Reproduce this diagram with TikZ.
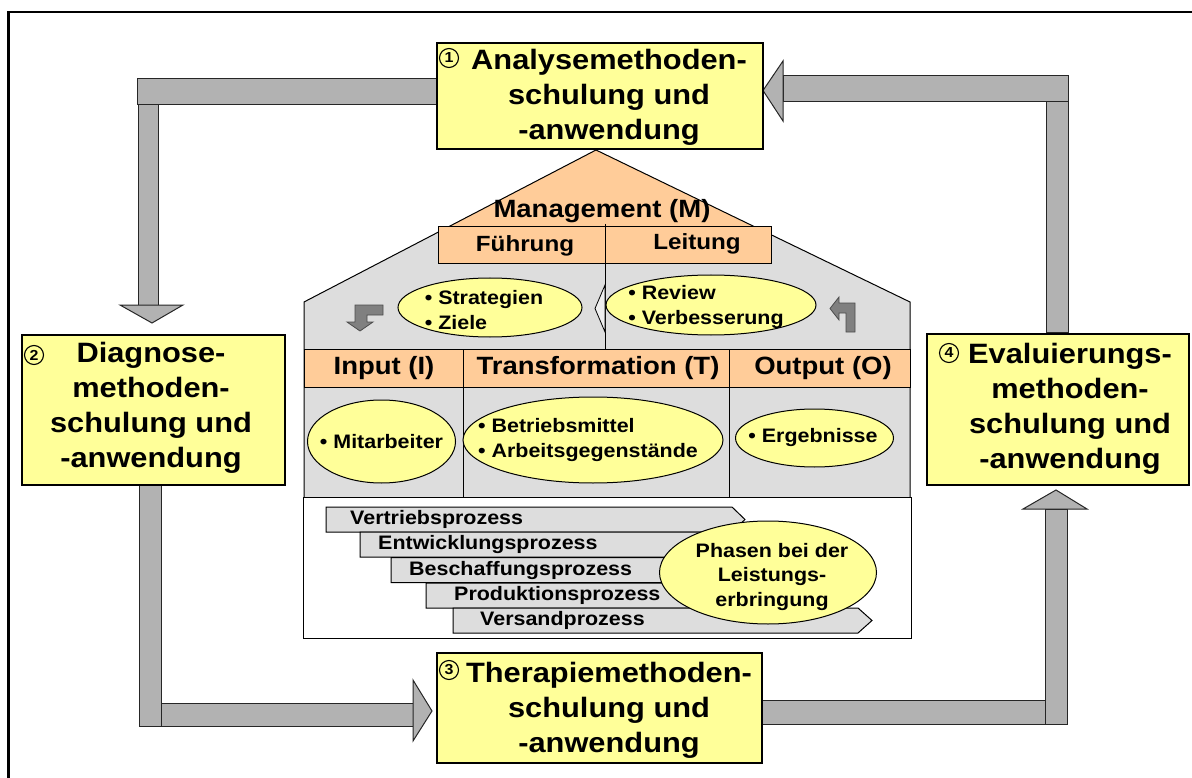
\documentclass[tikz,border=0pt]{standalone}
\usepackage{fontspec}
\setmainfont{Liberation Sans}[FakeStretch=1.1]
\usetikzlibrary{shapes.geometric}
\definecolor{yel}{HTML}{FFFF99}
\definecolor{peach}{HTML}{FFCC99}
\definecolor{hgray}{HTML}{DDDDDD}
\definecolor{barg}{HTML}{B2B2B2}
\definecolor{darkg}{HTML}{808080}
\tikzset{
  ybox/.style={draw=black, line width=1.2pt, fill=yel, inner sep=0pt},
  bigtxt/.style={font=\fontsize{28}{35}\selectfont\bfseries, align=center, inner sep=0pt},
  medtxt/.style={font=\fontsize{25}{30}\selectfont\bfseries, inner sep=0pt},
  fltxt/.style={font=\fontsize{22}{26}\selectfont\bfseries, inner sep=0pt},
  smtxt/.style={font=\fontsize{19.5}{25}\selectfont\bfseries, inner sep=0pt, align=left},
  phtxt/.style={font=\fontsize{19.5}{24.5}\selectfont\bfseries, inner sep=0pt, align=center},
  numc/.style={circle, draw=black, line width=1.1pt, inner sep=0pt, minimum size=19pt, font=\fontsize{14.5}{15}\selectfont\bfseries},
  gbar/.style={fill=barg, draw=black!85, line width=1pt},
  yell/.style={ellipse, draw=black, line width=1pt, fill=yel, inner sep=0pt},
  pbar/.style={fill=hgray, draw=black, line width=1pt},
  thin/.style={draw=black, line width=1pt},
  smarrow/.style={fill=darkg, draw=black!70, line width=0.8pt},
}
\begin{document}
\begin{tikzpicture}[x=1pt,y=-1pt]
\useasboundingbox (0,0) rectangle (1192,778);
% frame
\draw[line width=2.6pt] (8.5,780) -- (8.5,12) -- (1194,12);

% ---------- house ----------
\fill[hgray] (304,302) -- (596,150) -- (910,302) -- (910,497) -- (304,497) -- cycle;
\fill[peach] (596,150) -- (446,228) -- (757,228) -- cycle;
\draw[thin] (304,497) -- (304,302) -- (596,150) -- (910,302) -- (910,497);

\node[medtxt] (mgmt) at (602,211) {Management (M)};
\node[draw=black, line width=1pt, fill=peach, minimum width=333pt, minimum height=37pt] (fl) at (604.5,245.5) {};
\node[fltxt] (fuehr) at (525,246) {Führung};
\node[fltxt] (leit) at (697,244) {Leitung};
\draw[thin] (605,224) -- (605,349);

% strategy band
\node[yell, minimum width=184pt, minimum height=59pt] (es) at (490,307.5) {};
\node[smtxt] (ts) at (484,310) {• Strategien\\• Ziele};
\node[yell, minimum width=210pt, minimum height=60pt] (er) at (711,305) {};
\node[smtxt] (tr) at (706,307.5) {• Review\\• Verbesserung};
\draw[fill=hgray!50, draw=black, line width=0.8pt] (605,285) -- (595,308.5) -- (605,332) -- cycle;
\draw[smarrow] (383,305) -- (383,315) -- (367,315) -- (367,322) -- (373,322) -- (360,331) -- (347,322) -- (355,322) -- (355,305) -- cycle;
\draw[smarrow] (855,303) -- (855,332) -- (846,332) -- (846,313) -- (839,313) -- (839,320) -- (830,308.5) -- (839,297) -- (839,303) -- cycle;

% I T O header
\node[draw=black, line width=1pt, fill=peach, minimum width=606pt, minimum height=38pt] (hdr) at (607,368) {};
\draw[thin] (463,349) -- (463,497);
\draw[thin] (729,349) -- (729,497);
\node[medtxt] (hi) at (384,368) {Input (I)};
\node[medtxt] (ht) at (598,368) {Transformation (T)};
\node[medtxt] (ho) at (823,368) {Output (O)};

% contents
\node[yell, minimum width=148pt, minimum height=83pt] (em) at (381.5,441.5) {};
\node[smtxt] (tm) at (381.5,442) {• Mitarbeiter};
\node[yell, minimum width=260pt, minimum height=86pt] (eb) at (593,440) {};
\node[smtxt] (tb) at (588,440) {• Betriebsmittel\\• Arbeitsgegenstände};
\node[yell, minimum width=158pt, minimum height=58pt] (ee) at (814.5,438) {};
\node[smtxt] (te) at (813,438) {• Ergebnisse};

% process area
\node[draw=black, line width=1pt, fill=white, minimum width=608pt, minimum height=141pt] (proc) at (607.5,567.5) {};
\draw[pbar] (326,507) -- (732,507) -- (745,519.5) -- (732,532) -- (326,532) -- cycle;
\node[smtxt, anchor=west] (p1) at (350,519.5) {Vertriebsprozess};
\draw[pbar] (360,532) -- (766,532) -- (779,544.5) -- (766,557) -- (360,557) -- cycle;
\node[smtxt, anchor=west] (p2) at (378,544.5) {Entwicklungsprozess};
\draw[pbar] (391,557.5) -- (797,557.5) -- (810,570) -- (797,582.5) -- (391,582.5) -- cycle;
\node[smtxt, anchor=west] (p3) at (409,570) {Beschaffungsprozess};
\draw[pbar] (426,583) -- (832,583) -- (845,595.5) -- (832,608) -- (426,608) -- cycle;
\node[smtxt, anchor=west] (p4) at (454,595.5) {Produktionsprozess};
\draw[pbar] (453,608) -- (858,608) -- (872,620.5) -- (858,633) -- (453,633) -- cycle;
\node[smtxt, anchor=west] (p5) at (480,620.5) {Versandprozess};
\node[yell, minimum width=217pt, minimum height=103pt] (eph) at (768,572.5) {};
\node[phtxt] (tph) at (772,576.5) {Phasen bei der\\Leistungs-\\erbringung};

% ---------- block arrows ----------
% 1 -> 2
\draw[gbar] (137,79) rectangle (437,105);
\draw[gbar] (138,105) rectangle (158,305);
\draw[gbar] (120,305) -- (183,305) -- (152,323) -- cycle;
% 2 -> 3
\draw[gbar] (139,485) rectangle (161,726);
\draw[gbar] (161,703) rectangle (413,726);
\draw[gbar] (413,680) -- (432,711) -- (413,741) -- cycle;
% 3 -> 4
\draw[gbar] (762,700) rectangle (1045,724);
\draw[gbar] (1045,509) rectangle (1067,724);
\draw[gbar] (1023,509) -- (1056,490) -- (1087,509) -- cycle;
% 4 -> 1
\draw[gbar] (1046,102) rectangle (1068,332);
\draw[gbar] (783,76) rectangle (1068,102);
\draw[gbar] (783,61) -- (763,90.5) -- (783,121) -- cycle;

% ---------- yellow boxes ----------
\node[ybox, minimum width=326pt, minimum height=106pt] (b1) at (600,96) {};
\node[bigtxt] (t1) at (609,97.5) {Analysemethoden-\\schulung und\\-anwendung};
\node[numc] (n1) at (449,58) {1};

\node[ybox, minimum width=263pt, minimum height=150pt] (b2) at (153.5,410) {};
\node[bigtxt] (t2) at (151,408) {Diagnose-\\methoden-\\schulung und\\-anwendung};
\node[numc] (n2) at (34,355) {2};

\node[ybox, minimum width=325pt, minimum height=110pt] (b3) at (599.5,708) {};
\node[bigtxt] (t3) at (609,710) {Therapiemethoden-\\schulung und\\-anwendung};
\node[numc] (n3) at (449,670) {3};

\node[ybox, minimum width=262pt, minimum height=151pt] (b4) at (1058,409.5) {};
\node[bigtxt] (t4) at (1070,408.5) {Evaluierungs-\\methoden-\\schulung und\\-anwendung};
\node[numc] (n4) at (949,353) {4};
\end{tikzpicture}
\end{document}
